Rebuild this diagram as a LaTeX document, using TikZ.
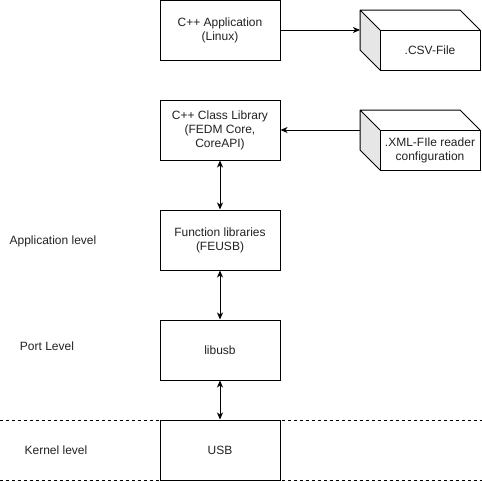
\documentclass[tikz,border=0pt]{standalone}
\usepackage{fontspec}
\setmainfont{Liberation Sans}
\usetikzlibrary{arrows.meta}
\definecolor{sidegray}{HTML}{E6E6E6}
\definecolor{txt}{HTML}{222222}
\begin{document}
\begin{tikzpicture}[x=1pt,y=-1pt,
  every node/.style={font=\fontsize{12}{14}\selectfont, text=txt},
  box/.style={draw=black, line width=1pt, fill=white, minimum width=120pt, minimum height=60pt, align=center, inner sep=0pt},
  front/.style={draw=black, line width=1pt, fill=white, minimum width=100pt, minimum height=40pt, align=center, inner sep=0pt},
  lbl/.style={inner sep=0pt, anchor=center},
  conn/.style={line width=1pt, -{Stealth[length=7pt,width=6pt,inset=2pt]}},
  biconn/.style={line width=1pt, {Stealth[length=7pt,width=6pt,inset=2pt]}-{Stealth[length=7pt,width=6pt,inset=2pt]}},
  sep/.style={line width=0.8pt, dash pattern=on 3pt off 3pt}
]
\useasboundingbox (0,0) rectangle (482,482);

% separator lines
\draw[sep] (0,420) -- (482,420);
\draw[sep] (0,480) -- (482,480);

% main boxes
\node[box] (app) at (220,30) {C++ Application\\(Linux)};
\node[box] (cls) at (220,130) {C++ Class Library\\(FEDM Core,\\CoreAPI)};
\node[box] (fun) at (220,240) {Function libraries\\(FEUSB)};
\node[box] (lib) at (220,350) {libusb};
\node[box] (usb) at (220,450) {USB};

% CSV cube
\fill[sidegray] (360,10) -- (380,30) -- (380,70) -- (360,50) -- cycle;
\draw[line width=1pt, line join=round] (360,10) -- (460,10) -- (480,30) (360,10) -- (360,50) -- (380,70) (360,10) -- (380,30);
\node[front] (csv) at (430,50) {.CSV-File};
\coordinate (csvin) at (360,30);

% XML cube
\fill[sidegray] (360,110) -- (380,130) -- (380,170) -- (360,150) -- cycle;
\draw[line width=1pt, line join=round] (360,110) -- (460,110) -- (480,130) (360,110) -- (360,150) -- (380,170) (360,110) -- (380,130);
\node[front] (xml) at (430,150) {.XML-FIle reader\\configuration};
\coordinate (xmlout) at (360,130);

% level labels
\node[lbl] (lapp) at (53,241) {Application level};
\node[lbl] (lport) at (47,346) {Port Level};
\node[lbl] (lkern) at (56,450) {Kernel level};

% connectors
\draw[conn] (app.east) -- (csvin);
\draw[conn] (xmlout) -- (cls.east);
\draw[biconn] (cls.south) -- (fun.north);
\draw[biconn] (fun.south) -- (lib.north);
\draw[biconn] (lib.south) -- (usb.north);
\end{tikzpicture}
\end{document}
